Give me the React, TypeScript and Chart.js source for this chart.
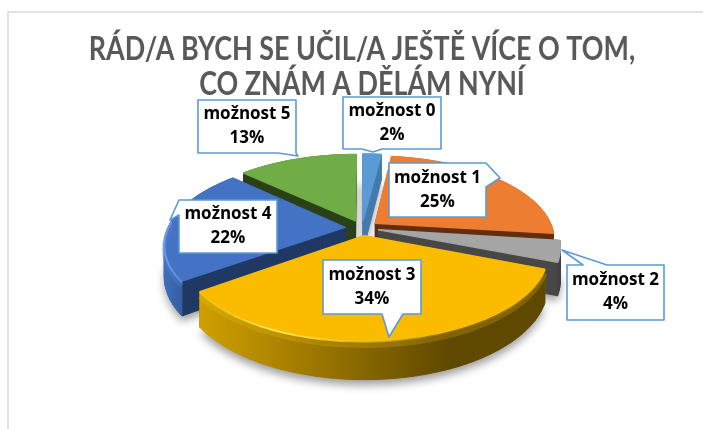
import React, { useEffect, useRef } from "react";
import { Chart, registerables } from "chart.js";

Chart.register(...registerables);

const categories = ["možnost 0", "možnost 1", "možnost 2", "možnost 3", "možnost 4", "možnost 5"];
const values = [2, 25, 4, 34, 22, 13];
const titleLines = ["RÁD/A BYCH SE UČIL/A JEŠTĚ VÍCE O TOM,", "CO ZNÁM A DĚLÁM NYNÍ"];
const topColors = ["#5B9BD5", "#ED7D31", "#A5A5A5", "#FBBC00", "#4472C4", "#70AD47"];
const radialColors = ["#4379AD", "#612E0F", "#474747", "#8A6800", "#203864", "#2A4018"];
const wallStops = [
  ["#4379AD", "#4379AD"],
  ["#8B4A1C", "#612E0F"],
  ["#484848", "#3F3F3F"],
  ["#D2A100", "#5F4800"],
  ["#3F6DBC", "#2A4A80"],
  ["#2A4018", "#2A4018"],
];
const wallSpans = [
  [360, 390],
  [380, 560],
  [540, 565],
  [195, 450],
  [165, 200],
  [240, 360],
];

// [left, top, right, bottom, side of pointer, base a, base b, tip x, tip y]
const callouts: [number, number, number, number, string, number, number, number, number][] = [
  [343, 97, 441, 149, "bottom", 362, 382, 373, 152],
  [389, 163, 486, 217, "right", 163, 187, 500, 178],
  [567, 265, 664, 320, "top", 583, 607, 562, 250],
  [323, 260, 421, 314, "bottom", 382, 403, 389, 337],
  [179, 200, 277, 253, "left", 200, 215, 170, 220],
  [198, 100, 296, 153, "bottom", 278, 296, 298, 156],
];

const TILT = 0.46;
const PERSP = 0.19;
const DEPTH = 31;
const TITLE_X_SCALE = 0.84;
const TITLE_CENTER = 362;

const pie3d = {
  id: "pie3d",
  beforeDraw(chart: any) {
    const { ctx, width, height } = chart;
    ctx.save();
    ctx.fillStyle = "#fff";
    ctx.fillRect(0, 0, width, height);
    ctx.strokeStyle = "#D9D9D9";
    ctx.lineWidth = 1.5;
    ctx.beginPath();
    ctx.moveTo(8, height);
    ctx.lineTo(8, 12);
    ctx.lineTo(width, 12);
    ctx.stroke();
    ctx.restore();
    // Calibri-like narrow title: condense the library's own title block
    const block = chart.titleBlock;
    if (block && !block.__narrow) {
      block.__narrow = true;
      const draw = block.draw.bind(block);
      block.draw = (...args: any[]) => {
        ctx.save();
        ctx.translate(TITLE_CENTER, 1);
        ctx.scale(TITLE_X_SCALE, 1);
        ctx.translate(-TITLE_CENTER, 0);
        draw(...args);
        ctx.restore();
      };
    }
  },
  beforeDatasetsDraw(chart: any) {
    const { ctx } = chart;
    const arcs = chart.getDatasetMeta(0).data;
    const slices = arcs.map((el: any, i: number) => {
      const p = el.getProps(["x", "y", "startAngle", "endAngle", "outerRadius"], true);
      const off = el.options.offset || 0;
      const mid = (p.startAngle + p.endAngle) / 2;
      const ox = off * Math.cos(mid);
      const oy = off * Math.sin(mid);
      const R = p.outerRadius;
      const pr = (wx: number, wy: number, z: number) => {
        const s = 1 / (1 - (PERSP * wy) / R);
        return [p.x + wx * s, p.y + wy * TILT * s + z * s];
      };
      const rim = (a: number, z: number) => pr(ox + R * Math.cos(a), oy + R * Math.sin(a), z);
      const n = Math.max(4, Math.ceil((p.endAngle - p.startAngle) / 0.03));
      const angles: number[] = [];
      for (let k = 0; k <= n; k++) angles.push(p.startAngle + ((p.endAngle - p.startAngle) * k) / n);
      return { i, p, mid, ox, oy, R, pr, rim, angles };
    });

    const trace = (pts: number[][], close = true) => {
      ctx.beginPath();
      pts.forEach((q, k) => (k ? ctx.lineTo(q[0], q[1]) : ctx.moveTo(q[0], q[1])));
      if (close) ctx.closePath();
    };

    // soft floor shadow
    ctx.save();
    ctx.shadowColor = "rgba(0,0,0,0.38)";
    ctx.shadowBlur = 9;
    ctx.shadowOffsetX = 2000;
    ctx.shadowOffsetY = 3;
    ctx.fillStyle = "#000";
    slices.forEach((s: any) => {
      const pts = [s.pr(s.ox, s.oy, DEPTH + 2), ...s.angles.map((a: number) => s.rim(a, DEPTH + 2))];
      trace(pts.map((q: number[]) => [q[0] - 2000, q[1]]));
      ctx.fill();
    });
    ctx.restore();

    const order = [...slices].sort((a: any, b: any) => Math.sin(a.mid) - Math.sin(b.mid));
    order.forEach((s: any) => {
      const stops = wallStops[s.i];
      const span = wallSpans[s.i];
      const grad = ctx.createLinearGradient(span[0], 0, span[1], 0);
      grad.addColorStop(0, stops[0]);
      grad.addColorStop(1, stops[1]);
      const radial = radialColors[s.i];
      const quads: { pts: number[][]; v: number; fill: any }[] = [];
      [s.angles[0], s.angles[s.angles.length - 1]].forEach((a: number) => {
        quads.push({
          pts: [s.pr(s.ox, s.oy, 0), s.rim(a, 0), s.rim(a, DEPTH), s.pr(s.ox, s.oy, DEPTH)],
          v: s.oy + (s.R * Math.sin(a)) / 2,
          fill: radial,
        });
      });
      for (let k = 0; k < s.angles.length - 1; k++) {
        const a0 = s.angles[k];
        const a1 = s.angles[k + 1];
        quads.push({
          pts: [s.rim(a0, 0), s.rim(a1, 0), s.rim(a1, DEPTH), s.rim(a0, DEPTH)],
          v: s.oy + s.R * Math.sin((a0 + a1) / 2),
          fill: grad,
        });
      }
      quads.sort((a, b) => a.v - b.v);
      ctx.lineJoin = "round";
      quads.forEach((q) => {
        ctx.fillStyle = q.fill;
        ctx.strokeStyle = q.fill;
        ctx.lineWidth = 1;
        trace(q.pts);
        ctx.fill();
        ctx.stroke();
      });
      // top face
      const fillTop = chart.getDatasetMeta(0).data[s.i].options.backgroundColor;
      trace([s.pr(s.ox, s.oy, 0), ...s.angles.map((a: number) => s.rim(a, 0))]);
      ctx.fillStyle = fillTop;
      ctx.strokeStyle = fillTop;
      ctx.lineWidth = 1.5;
      ctx.fill();
      ctx.stroke();
      // rolled edge: a soft highlight and a shaded band on the wall just under it
      if (s.i === 3 || s.i === 4) {
        const rimPts = s.angles
          .filter((a: number) => Math.sin(a) > -0.1)
          .map((a: number) => s.rim(a, 1));
        const band = s.angles
          .filter((a: number) => Math.sin(a) > -0.1)
          .map((a: number) => s.rim(a, 4));
        const hi = ctx.createLinearGradient(span[0], 0, span[1], 0);
        if (s.i === 3) {
          hi.addColorStop(0, "rgba(255,215,40,0.25)");
          hi.addColorStop(0.3, "rgba(255,235,90,0.95)");
          hi.addColorStop(0.65, "rgba(255,225,60,0.6)");
          hi.addColorStop(1, "rgba(255,205,20,0.3)");
        } else {
          hi.addColorStop(0, "rgba(120,160,235,0.8)");
          hi.addColorStop(1, "rgba(120,160,235,0.3)");
        }
        ctx.strokeStyle = "rgba(255,195,0,0.22)";
        if (s.i === 4) ctx.strokeStyle = "rgba(90,130,210,0.35)";
        ctx.lineWidth = 5;
        trace(band, false);
        ctx.stroke();
        ctx.strokeStyle = hi;
        ctx.lineWidth = 2;
        trace(rimPts, false);
        ctx.stroke();
      }
    });
    return false;
  },
  afterDraw(chart: any) {
    const { ctx } = chart;
    const total = values.reduce((a, b) => a + b, 0);
    ctx.save();
    callouts.forEach((c, i) => {
      const [l, t, r, b, side, a0, a1, tx, ty] = c;
      ctx.beginPath();
      ctx.moveTo(l, t);
      if (side === "top") {
        ctx.lineTo(a0, t);
        ctx.lineTo(tx, ty);
        ctx.lineTo(a1, t);
      }
      ctx.lineTo(r, t);
      if (side === "right") {
        ctx.lineTo(r, a0);
        ctx.lineTo(tx, ty);
        ctx.lineTo(r, a1);
      }
      ctx.lineTo(r, b);
      if (side === "bottom") {
        ctx.lineTo(a1, b);
        ctx.lineTo(tx, ty);
        ctx.lineTo(a0, b);
      }
      ctx.lineTo(l, b);
      if (side === "left") {
        ctx.lineTo(l, a1);
        ctx.lineTo(tx, ty);
        ctx.lineTo(l, a0);
      }
      ctx.closePath();
      ctx.fillStyle = "#fff";
      ctx.fill();
      ctx.strokeStyle = "#5B9BD5";
      ctx.lineWidth = 1.6;
      ctx.stroke();
      ctx.fillStyle = "#000";
      ctx.font = "bold 17px 'Open Sans'";
      ctx.textAlign = "center";
      ctx.textBaseline = "middle";
      const cx = (l + r) / 2;
      const cy = (t + b) / 2;
      ctx.fillText(categories[i], cx, cy - 12);
      ctx.fillText(Math.round((values[i] / total) * 100) + "%", cx, cy + 12);
    });
    ctx.restore();
  },
};

export default function App() {
  const ref = useRef<HTMLCanvasElement>(null);
  useEffect(() => {
    const chart = new Chart(ref.current as HTMLCanvasElement, {
      type: "pie",
      data: {
        labels: categories,
        datasets: [
          {
            data: values,
            backgroundColor: topColors,
            borderWidth: 0,
            offset: 17,
            radius: 177,
          } as any,
        ],
      },
      plugins: [pie3d],
      options: {
        responsive: false,
        animation: false,
        layout: { padding: { left: 21, top: 0, right: 0, bottom: 75 } },
        plugins: {
          legend: { display: false },
          tooltip: { enabled: false },
          title: {
            display: true,
            text: titleLines,
            color: "#595959",
            font: { family: "Lato", weight: "bold", size: 32, lineHeight: 1.09 },
            padding: { top: 31, bottom: 1 },
          },
        },
      },
    });
    return () => chart.destroy();
  }, []);
  return (
    <div style={{ position: "fixed", left: 0, top: 0, width: 703, height: 429 }}>
      <canvas ref={ref} width={703} height={429} style={{ display: "block", filter: "blur(0.4px)" }} />
    </div>
  );
}
